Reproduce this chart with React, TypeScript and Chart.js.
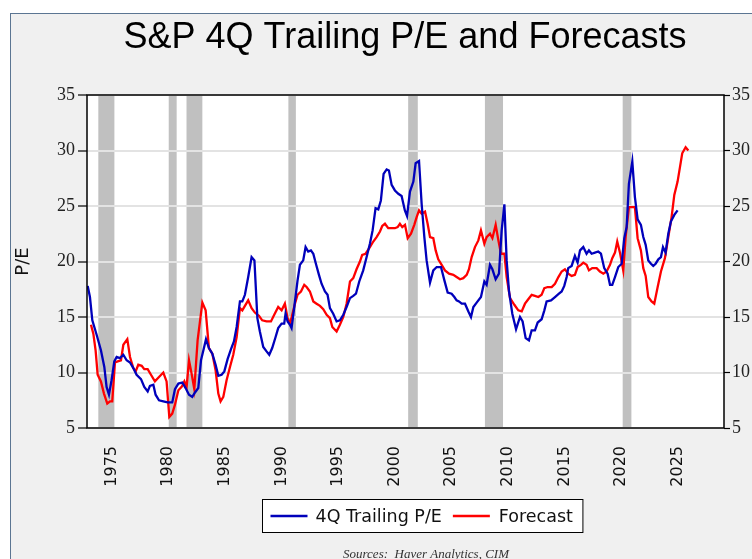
import { useEffect, useRef } from "react";
import { Chart, registerables } from "chart.js";

Chart.register(...registerables);

const TITLE = "S&P 4Q Trailing P/E and Forecasts";
const Y_TITLE = "P/E";
const SOURCE_TEXT = "Sources:  Haver Analytics, CIM";
const SERIES_NAMES = ["4Q Trailing P/E", "Forecast"];
const SERIES_COLORS = ["#0000bb", "#ff0000"];

const X_TICKS = [1975, 1980, 1985, 1990, 1995, 2000, 2005, 2010, 2015, 2020, 2025];
const X_MIN = 1972.83;
const X_MAX = 2029.1;
const Y_MIN = 5;
const Y_MAX = 35;
const Y_STEP = 5;

const RECESSION_STARTS = [1973.83, 1980.05, 1981.62, 1990.62, 2001.2, 2007.98, 2020.15];
const RECESSION_ENDS = [1975.25, 1980.75, 1983.02, 1991.28, 2002.05, 2009.58, 2020.92];

const TRAILING_YEARS = [
  1972.89, 1973.09, 1973.3, 1973.68, 1974.06, 1974.36, 1974.56, 1974.77, 1975.0, 1975.24,
  1975.45, 1975.74, 1976.04, 1976.33, 1976.63, 1976.92, 1977.21, 1977.6, 1977.89, 1978.19,
  1978.39, 1978.69, 1978.89, 1979.19, 1979.57, 1979.95, 1980.36, 1980.6, 1980.9, 1981.25,
  1981.54, 1981.84, 1982.13, 1982.37, 1982.66, 1982.9, 1983.16, 1983.34, 1983.6, 1983.9,
  1984.19, 1984.43, 1984.72, 1984.96, 1985.25, 1985.55, 1985.81, 1986.05, 1986.34, 1986.55,
  1986.78, 1987.07, 1987.37, 1987.62, 1987.88, 1988.1, 1988.4, 1988.69, 1988.93, 1989.19,
  1989.49, 1989.72, 1990.02, 1990.25, 1990.37, 1990.55, 1990.76, 1990.9, 1991.14, 1991.43,
  1991.64, 1991.93, 1992.14, 1992.37, 1992.61, 1992.82, 1993.05, 1993.32, 1993.55, 1993.85,
  1994.08, 1994.29, 1994.58, 1994.88, 1995.17, 1995.47, 1995.76, 1996.06, 1996.35, 1996.59,
  1996.88, 1997.23, 1997.53, 1997.82, 1998.06, 1998.32, 1998.56, 1998.79, 1999.03, 1999.3,
  1999.5, 1999.74, 2000.03, 2000.33, 2000.62, 2000.91, 2001.1, 2001.36, 2001.66, 2001.86,
  2002.16, 2002.39, 2002.63, 2002.83, 2003.13, 2003.42, 2003.72, 2004.1, 2004.4, 2004.69,
  2005.04, 2005.28, 2005.48, 2005.69, 2005.93, 2006.22, 2006.52, 2006.75, 2006.96, 2007.25,
  2007.63, 2007.93, 2008.13, 2008.43, 2008.64, 2008.93, 2009.22, 2009.46, 2009.7, 2009.9,
  2010.11, 2010.4, 2010.73, 2011.08, 2011.31, 2011.58, 2011.87, 2012.11, 2012.4, 2012.64,
  2012.99, 2013.23, 2013.43, 2013.82, 2014.17, 2014.52, 2014.76, 2014.99, 2015.2, 2015.34,
  2015.64, 2015.93, 2016.17, 2016.38, 2016.67, 2016.96, 2017.17, 2017.41, 2017.7, 2017.99,
  2018.23, 2018.52, 2018.82, 2019.03, 2019.23, 2019.47, 2019.76, 2020.06, 2020.29, 2020.5,
  2020.7, 2021.0, 2021.23, 2021.47, 2021.76, 2021.97, 2022.18, 2022.41, 2022.65, 2022.85,
  2023.06, 2023.3, 2023.53, 2023.71, 2023.94, 2024.18, 2024.41, 2024.71, 2025.0,
];
const TRAILING_PE = [
  17.8, 16.8, 14.7, 13.4, 12.0, 10.5, 8.7, 8.0, 9.3, 11.0,
  11.4, 11.3, 11.6, 11.1, 10.9, 10.4, 9.8, 9.4, 8.7, 8.3,
  8.8, 8.9, 8.0, 7.5, 7.4, 7.3, 7.3, 8.5, 9.0, 9.1,
  8.6, 8.0, 7.8, 8.2, 8.6, 11.1, 12.2, 13.0, 12.2, 11.7,
  10.7, 9.7, 9.8, 10.1, 11.2, 12.1, 12.8, 14.1, 16.4, 16.4,
  17.0, 18.6, 20.4, 20.1, 14.9, 13.7, 12.3, 11.9, 11.6, 12.2,
  13.2, 14.0, 14.4, 14.4, 15.3, 14.6, 14.3, 14.0, 15.9, 18.3,
  19.7, 20.1, 21.3, 20.9, 21.0, 20.7, 19.8, 18.8, 18.0, 17.3,
  17.0, 15.8, 15.3, 14.6, 14.7, 15.2, 15.9, 16.7, 16.9, 17.1,
  18.2, 19.2, 20.4, 21.6, 22.8, 24.8, 24.7, 25.5, 27.9, 28.3,
  28.2, 26.9, 26.4, 26.1, 25.9, 24.6, 24.1, 26.3, 27.2, 28.85,
  29.05, 25.2, 22.2, 20.1, 18.1, 19.2, 19.5, 19.5, 18.3, 17.2,
  17.1, 16.8, 16.5, 16.4, 16.2, 16.2, 15.5, 15.0, 15.9, 16.3,
  16.8, 18.2, 17.9, 19.7, 19.3, 18.4, 18.9, 22.8, 25.15, 20.1,
  17.3, 15.3, 13.9, 15.0, 14.6, 13.1, 12.9, 13.8, 13.8, 14.5,
  14.8, 15.6, 16.4, 16.5, 16.8, 17.1, 17.3, 17.8, 18.6, 19.4,
  19.6, 20.5, 19.9, 21.0, 21.3, 20.7, 21.0, 20.7, 20.8, 20.9,
  20.7, 19.4, 18.9, 17.9, 17.9, 18.6, 19.5, 19.8, 22.1, 23.1,
  27.0, 29.0, 25.8, 23.8, 23.3, 22.2, 21.5, 20.1, 19.8, 19.6,
  19.8, 20.2, 20.4, 21.3, 20.8, 22.5, 23.6, 24.2, 24.6,
];

const FORECAST_YEARS = [
  1973.18, 1973.39, 1973.59, 1973.77, 1974.06, 1974.33, 1974.62, 1974.86, 1975.06, 1975.3,
  1975.54, 1975.83, 1976.04, 1976.39, 1976.63, 1976.92, 1977.13, 1977.36, 1977.66, 1977.89,
  1978.19, 1978.48, 1978.83, 1979.19, 1979.57, 1979.86, 1980.1, 1980.36, 1980.6, 1980.9,
  1981.19, 1981.43, 1981.63, 1981.84, 1982.07, 1982.31, 1982.6, 1982.81, 1983.02, 1983.31,
  1983.6, 1983.9, 1984.19, 1984.43, 1984.63, 1984.87, 1985.16, 1985.46, 1985.75, 1986.05,
  1986.34, 1986.55, 1986.78, 1987.07, 1987.37, 1987.66, 1988.02, 1988.31, 1988.69, 1989.08,
  1989.37, 1989.72, 1990.02, 1990.31, 1990.55, 1990.76, 1990.96, 1991.2, 1991.43, 1991.73,
  1992.02, 1992.23, 1992.52, 1992.82, 1993.11, 1993.41, 1993.7, 1994.0, 1994.29, 1994.5,
  1994.88, 1995.17, 1995.47, 1995.76, 1996.06, 1996.35, 1996.64, 1996.94, 1997.14, 1997.44,
  1997.82, 1998.12, 1998.41, 1998.71, 1998.91, 1999.15, 1999.44, 1999.74, 2000.03, 2000.27,
  2000.47, 2000.68, 2000.92, 2001.16, 2001.45, 2001.74, 2001.95, 2002.16, 2002.39, 2002.69,
  2002.92, 2003.13, 2003.42, 2003.63, 2003.86, 2004.16, 2004.45, 2004.81, 2005.19, 2005.48,
  2005.78, 2006.07, 2006.37, 2006.57, 2006.81, 2007.1, 2007.4, 2007.63, 2007.93, 2008.13,
  2008.43, 2008.64, 2008.93, 2009.17, 2009.4, 2009.7, 2009.9, 2010.2, 2010.58, 2010.93,
  2011.23, 2011.52, 2011.81, 2012.11, 2012.4, 2012.7, 2012.99, 2013.23, 2013.52, 2013.88,
  2014.17, 2014.47, 2014.76, 2015.05, 2015.34, 2015.64, 2015.93, 2016.17, 2016.46, 2016.67,
  2016.96, 2017.17, 2017.46, 2017.85, 2018.14, 2018.44, 2018.73, 2019.03, 2019.23, 2019.47,
  2019.67, 2019.91, 2020.2, 2020.41, 2020.7, 2020.94, 2021.23, 2021.47, 2021.76, 2021.97,
  2022.18, 2022.41, 2022.7, 2022.94, 2023.24, 2023.53, 2023.88, 2024.18, 2024.47, 2024.71,
  2025.0, 2025.21, 2025.41, 2025.71, 2025.95,
];
const FORECAST_PE = [
  14.3, 13.5, 12.0, 9.8, 9.2, 8.1, 7.2, 7.4, 7.4, 10.9,
  11.0, 11.1, 12.5, 13.0, 11.4, 10.4, 10.1, 10.7, 10.6, 10.3,
  10.3, 9.8, 9.2, 9.6, 10.0, 9.2, 6.0, 6.3, 7.1, 8.4,
  8.7, 9.2, 8.7, 11.1, 9.9, 8.5, 12.9, 14.6, 16.3, 15.6,
  12.2, 11.7, 10.2, 8.1, 7.4, 7.8, 9.3, 10.5, 11.6, 13.2,
  15.8, 15.6, 16.0, 16.5, 15.8, 15.4, 15.1, 14.7, 14.6, 14.6,
  15.2, 15.9, 15.6, 16.2, 14.9, 14.4, 15.2, 16.2, 17.0, 17.3,
  17.9, 17.7, 17.3, 16.4, 16.2, 16.0, 15.7, 15.2, 14.9, 14.1,
  13.7, 14.3, 15.0, 16.2, 18.2, 18.5, 19.3, 20.0, 20.6, 20.7,
  21.3, 21.8, 22.2, 22.7, 23.2, 23.4, 23.0, 23.0, 23.0, 23.1,
  23.4, 23.1, 23.3, 22.1, 22.5, 23.3, 24.0, 24.6, 24.3, 24.5,
  23.4, 22.2, 22.1, 21.0, 20.2, 19.7, 19.2, 18.9, 18.8, 18.6,
  18.4, 18.5, 18.8, 19.3, 20.4, 21.3, 21.9, 22.8, 21.6, 22.2,
  22.5, 22.1, 23.3, 21.9, 20.7, 20.7, 18.6, 16.7, 16.1, 15.6,
  15.5, 16.2, 16.6, 17.0, 16.9, 16.8, 17.0, 17.6, 17.7, 17.7,
  18.0, 18.6, 19.1, 19.3, 18.9, 18.7, 18.8, 19.5, 19.7, 19.9,
  19.7, 19.2, 19.4, 19.4, 19.1, 18.9, 19.1, 19.7, 20.3, 20.8,
  21.8, 20.8, 19.2, 22.2, 24.9, 24.9, 24.9, 22.1, 21.0, 19.4,
  18.7, 16.8, 16.4, 16.2, 17.7, 19.1, 20.3, 22.2, 24.0, 26.0,
  27.2, 28.5, 29.75, 30.3, 30.0,
];

const W = 752;
const H = 559;
const SANS = "'DejaVu Sans', sans-serif";
const SERIF = "'Liberation Serif', 'Times New Roman', serif";

const decorPlugin = {
  id: "decor",
  beforeDraw(chart: any) {
    const { ctx, chartArea: a } = chart;
    ctx.save();
    ctx.fillStyle = "#ffffff";
    ctx.fillRect(0, 0, W, H);
    ctx.fillStyle = "#f0f0f0";
    ctx.fillRect(10.5, 13.5, W, H);
    ctx.strokeStyle = "#5b7592";
    ctx.lineWidth = 1;
    ctx.strokeRect(10.5, 13.5, W + 10, H + 10);
    ctx.fillStyle = "#ffffff";
    ctx.fillRect(a.left, a.top, a.right - a.left, a.bottom - a.top);
    const xs = chart.scales.x;
    ctx.fillStyle = "#c0c0c0";
    for (let i = 0; i < RECESSION_STARTS.length; i++) {
      const x0 = xs.getPixelForValue(RECESSION_STARTS[i]);
      const x1 = xs.getPixelForValue(RECESSION_ENDS[i]);
      ctx.fillRect(x0, a.top, x1 - x0, a.bottom - a.top);
    }
    ctx.restore();
  },
  afterDraw(chart: any) {
    const { ctx, chartArea: a } = chart;
    ctx.save();
    // plot frame
    ctx.strokeStyle = "#000";
    ctx.lineWidth = 1.5;
    ctx.strokeRect(a.left, a.top, a.right - a.left, a.bottom - a.top);

    // title
    ctx.fillStyle = "#000";
    ctx.font = "36px 'Liberation Sans', Arial, sans-serif";
    ctx.textAlign = "center";
    ctx.textBaseline = "middle";
    ctx.fillText(TITLE, 405, 38);

    // legend
    const cx = 422;
    const yMid = 516;
    ctx.font = "17.5px " + SANS;
    const ds = chart.data.datasets;
    const lineLen = 37;
    const w0 = ctx.measureText(ds[0].label).width;
    const w1 = ctx.measureText(ds[1].label).width;
    const total = 8 + lineLen + 8 + w0 + 11 + lineLen + 9 + w1 + 10;
    const bx = Math.round(cx - total / 2) + 0.5;
    ctx.fillStyle = "#fff";
    ctx.fillRect(bx, 499.5, total, 33);
    ctx.strokeStyle = "#000";
    ctx.lineWidth = 1;
    ctx.strokeRect(bx, 499.5, total, 33);
    let x = bx + 8;
    ctx.textAlign = "left";
    for (let i = 0; i < 2; i++) {
      ctx.strokeStyle = ds[i].borderColor;
      ctx.lineWidth = 2.5;
      ctx.beginPath();
      ctx.moveTo(x, yMid);
      ctx.lineTo(x + lineLen, yMid);
      ctx.stroke();
      x += lineLen + (i === 0 ? 8 : 9);
      ctx.fillStyle = "#111";
      ctx.fillText(ds[i].label, x, yMid + 1);
      x += (i === 0 ? w0 : w1) + 11;
    }

    // sources
    ctx.font = "italic 13px " + SERIF;
    ctx.fillStyle = "#333";
    ctx.textAlign = "center";
    ctx.fillText(SOURCE_TEXT, 426, 555);
    ctx.restore();
  },
};

export default function App() {
  const ref = useRef<HTMLCanvasElement | null>(null);

  useEffect(() => {
    const canvas = ref.current;
    if (!canvas) return;
    const trailing = TRAILING_YEARS.map((yr, i) => ({ x: yr, y: TRAILING_PE[i] }));
    const forecast = FORECAST_YEARS.map((yr, i) => ({ x: yr, y: FORECAST_PE[i] }));
    const yTickFont = { family: SERIF, size: 18 };
    const chart = new Chart(canvas, {
      type: "line",
      data: {
        datasets: [
          {
            label: SERIES_NAMES[0],
            data: trailing,
            borderColor: SERIES_COLORS[0],
            backgroundColor: SERIES_COLORS[0],
            borderWidth: 2.3,
            pointRadius: 0,
            tension: 0,
            yAxisID: "y",
          },
          {
            label: SERIES_NAMES[1],
            data: forecast,
            borderColor: SERIES_COLORS[1],
            backgroundColor: SERIES_COLORS[1],
            borderWidth: 2.3,
            pointRadius: 0,
            tension: 0,
            yAxisID: "y",
          },
        ],
      },
      options: {
        responsive: false,
        animation: false,
        devicePixelRatio: 1,
        layout: { padding: { top: 95, left: 0, right: 0, bottom: 0 } },
        plugins: {
          legend: { display: false },
          title: { display: false },
          tooltip: { enabled: false },
        },
        scales: {
          x: {
            type: "linear",
            min: X_MIN,
            max: X_MAX,
            grid: { display: false },
            border: { display: false },
            afterBuildTicks: (s: any) => {
              s.ticks = X_TICKS.map((v) => ({ value: v }));
            },
            afterFit: (s: any) => {
              s.height = 131;
            },
            ticks: {
              autoSkip: false,
              minRotation: 90,
              maxRotation: 90,
              padding: 10,
              color: "#111",
              font: { family: SANS, size: 16 },
              callback: (v: any) => String(v),
            },
          },
          y: {
            position: "left",
            min: Y_MIN,
            max: Y_MAX,
            afterFit: (s: any) => {
              s.width = 87;
            },
            border: { display: false },
            grid: {
              color: "#e3e3e3",
              lineWidth: 2,
              drawTicks: true,
              tickLength: 9,
              tickColor: "#000",
              tickWidth: 1.2,
            },
            ticks: { stepSize: Y_STEP, padding: 3, color: "#222", font: yTickFont },
            title: {
              display: true,
              text: Y_TITLE,
              color: "#111",
              font: { family: SANS, size: 18 },
              padding: { top: 13, bottom: 0 },
            },
          },
          y1: {
            position: "right",
            min: Y_MIN,
            max: Y_MAX,
            afterFit: (s: any) => {
              s.width = 28;
            },
            border: { display: false },
            grid: {
              drawOnChartArea: false,
              drawTicks: true,
              tickLength: 6,
              tickColor: "#000",
              tickWidth: 1.2,
            },
            ticks: { stepSize: Y_STEP, padding: 2, color: "#222", font: yTickFont },
          },
        },
      },
      plugins: [decorPlugin],
    });
    return () => chart.destroy();
  }, []);

  return (
    <div style={{ position: "absolute", left: 0, top: 0, width: W, height: H }}>
      <canvas ref={ref} width={W} height={H} style={{ display: "block" }} />
    </div>
  );
}
